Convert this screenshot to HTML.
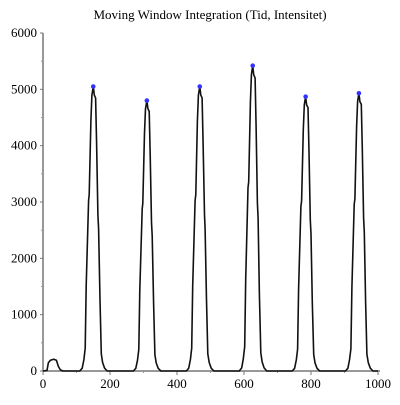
<!DOCTYPE html>
<html><head><meta charset="utf-8"><style>
body{margin:0;background:#fff}
svg text{font-family:"Liberation Serif",serif;font-size:13px;fill:#000}
</style></head><body>
<svg width="400" height="400">
<text x="210" y="19" text-anchor="middle">Moving Window Integration (Tid, Intensitet)</text>
<g id="axes"></g>
<path id="curve" fill="none" stroke="#111" stroke-width="1.6" stroke-linejoin="round"/>
<g id="marks"></g>
</svg>
<script>
const peakTimes=[150,310,468,626,784,943];
const peakValues=[5050,4800,5050,5420,4870,4930];
const shapeOffsets=[-40,-33,-28,-24,-21,-14,-12,-7,-4,0,3,7,10,14,16,20,24,28,34,42];
const shapeFractions=[0,0.01,0.04,0.08,0.3,0.6,0.62,0.88,0.97,1,0.97,0.96,0.8,0.55,0.5,0.25,0.06,0.03,0.01,0];
const bumpTimes=[0,12,16,22,32,40,46,52,60];
const bumpValues=[0,10,150,190,210,190,80,20,0];
const xTicks=[0,200,400,600,800,1000];
const yTicks=[0,1000,2000,3000,4000,5000,6000];
const X=v=>43+v*0.335, Y=v=>371-v*338/6000;
const ns="http://www.w3.org/2000/svg";
function mk(t,a,p){const e=document.createElementNS(ns,t);for(const k in a)e.setAttribute(k,a[k]);p.appendChild(e);return e;}
const ax=document.getElementById('axes');
let l=mk('line',{x1:43,y1:371,x2:380,y2:371,stroke:'#777','stroke-width':1.5},ax);


l=mk('line',{x1:43,y1:33,x2:43,y2:371,stroke:'#777','stroke-width':1.5},ax);


xTicks.forEach(v=>{const t=mk('text',{x:X(v),y:388,'text-anchor':'middle'},ax);t.textContent=v;


mk('line',{x1:X(v),y1:371,x2:X(v),y2:375,stroke:'#777'},ax);
mk('line',{x1:X(v+100),y1:371,x2:X(v+100),y2:373,stroke:'#999'},ax);});
yTicks.forEach(v=>{const t=mk('text',{x:37,y:Y(v)+4,'text-anchor':'end'},ax);t.textContent=v;


mk('line',{x1:40,y1:Y(v),x2:43,y2:Y(v),stroke:'#777'},ax);
if(v<6000)mk('line',{x1:41,y1:Y(v+500),x2:43,y2:Y(v+500),stroke:'#999'},ax);});
const pts=[];
bumpTimes.forEach((t,i)=>pts.push([t,bumpValues[i]]));
peakTimes.forEach((p,i)=>{shapeOffsets.forEach((o,j)=>pts.push([p+o,shapeFractions[j]*peakValues[i]]));});
pts.push([1000,0]);
document.getElementById('curve').setAttribute('d',pts.map((p,i)=>(i?'L':'M')+X(p[0]).toFixed(1)+','+Y(p[1]).toFixed(1)).join(''));
const mg=document.getElementById('marks');
peakTimes.forEach((p,i)=>{const c=mk('circle',{cx:X(p),cy:Y(peakValues[i]),r:2.3,fill:'#3333ff'},mg);

});
</script>
</body></html>
